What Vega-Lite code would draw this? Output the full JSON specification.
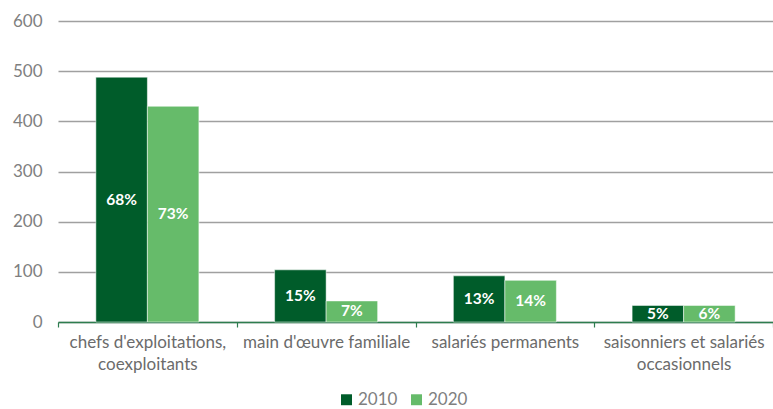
{
  "$schema": "https://vega.github.io/schema/vega-lite/v6.json",
  "width": 715,
  "height": 301,
  "autosize": {"type": "none"},
  "padding": {"left": 58, "top": 21, "right": 0, "bottom": 87},
  "background": "white",
  "config": {
    "view": {"stroke": null},
    "font": "Lato"
  },
  "data": {
    "values": [
      {"cat": "chefs d'exploitations,|coexploitants", "year": "2010", "value": 488, "pct": "68%"},
      {"cat": "chefs d'exploitations,|coexploitants", "year": "2020", "value": 430, "pct": "73%"},
      {"cat": "main d'œuvre familiale", "year": "2010", "value": 104, "pct": "15%"},
      {"cat": "main d'œuvre familiale", "year": "2020", "value": 42, "pct": "7%"},
      {"cat": "salariés permanents", "year": "2010", "value": 92, "pct": "13%"},
      {"cat": "salariés permanents", "year": "2020", "value": 83, "pct": "14%"},
      {"cat": "saisonniers et salariés|occasionnels", "year": "2010", "value": 33, "pct": "5%"},
      {"cat": "saisonniers et salariés|occasionnels", "year": "2020", "value": 33, "pct": "6%"}
    ]
  },
  "encoding": {
    "x": {
      "field": "cat",
      "type": "nominal",
      "sort": null,
      "scale": {"paddingInner": 0, "paddingOuter": 0},
      "axis": {
        "title": null,
        "labelAngle": 0,
        "labelExpr": "split(datum.label, '|')",
        "labelFont": "Lato",
        "labelFontSize": 17,
        "labelColor": "#6B6B6B",
        "labelLineHeight": 22,
        "labelPadding": 7,
        "domainColor": "#2E7D4F",
        "domainWidth": 1.5,
        "tickColor": "#2E7D4F",
        "tickBand": "extent",
        "tickSize": 5,
        "tickWidth": 1.2,
        "grid": false
      }
    },
    "xOffset": {
      "field": "year",
      "type": "nominal",
      "scale": {"paddingInner": 0, "paddingOuter": 0.735}
    }
  },
  "layer": [
    {
      "mark": {"type": "bar", "stroke": "white", "strokeWidth": 0.5},
      "encoding": {
        "y": {
          "field": "value",
          "type": "quantitative",
          "scale": {"domain": [0, 600]},
          "axis": {
            "title": null,
            "values": [0, 100, 200, 300, 400, 500, 600],
            "domain": false,
            "ticks": false,
            "labelFont": "Lato",
            "labelFontSize": 17,
            "labelColor": "#7F7F7F",
            "labelPadding": 16,
            "gridColor": "#A0A0A0",
            "gridWidth": 1.3
          }
        },
        "color": {
          "field": "year",
          "type": "nominal",
          "scale": {"domain": ["2010", "2020"], "range": ["#005C2A", "#66BB6A"]},
          "legend": {
            "title": null,
            "orient": "none",
            "direction": "horizontal",
            "legendX": 280,
            "legendY": 370,
            "symbolType": "square",
            "symbolSize": 120,
            "symbolStrokeWidth": 0,
            "labelFont": "Lato",
            "labelFontSize": 17,
            "labelColor": "#7F7F7F",
            "labelOffset": 3,
            "columnPadding": 10
          }
        }
      }
    },
    {
      "transform": [{"calculate": "datum.value / 2", "as": "mid"}],
      "mark": {"type": "text", "color": "white", "fontWeight": "bold", "fontSize": 15.5, "baseline": "middle", "font": "Lato"},
      "encoding": {
        "y": {"field": "mid", "type": "quantitative", "scale": {"domain": [0, 600]}},
        "text": {"field": "pct"}
      }
    }
  ]
}
